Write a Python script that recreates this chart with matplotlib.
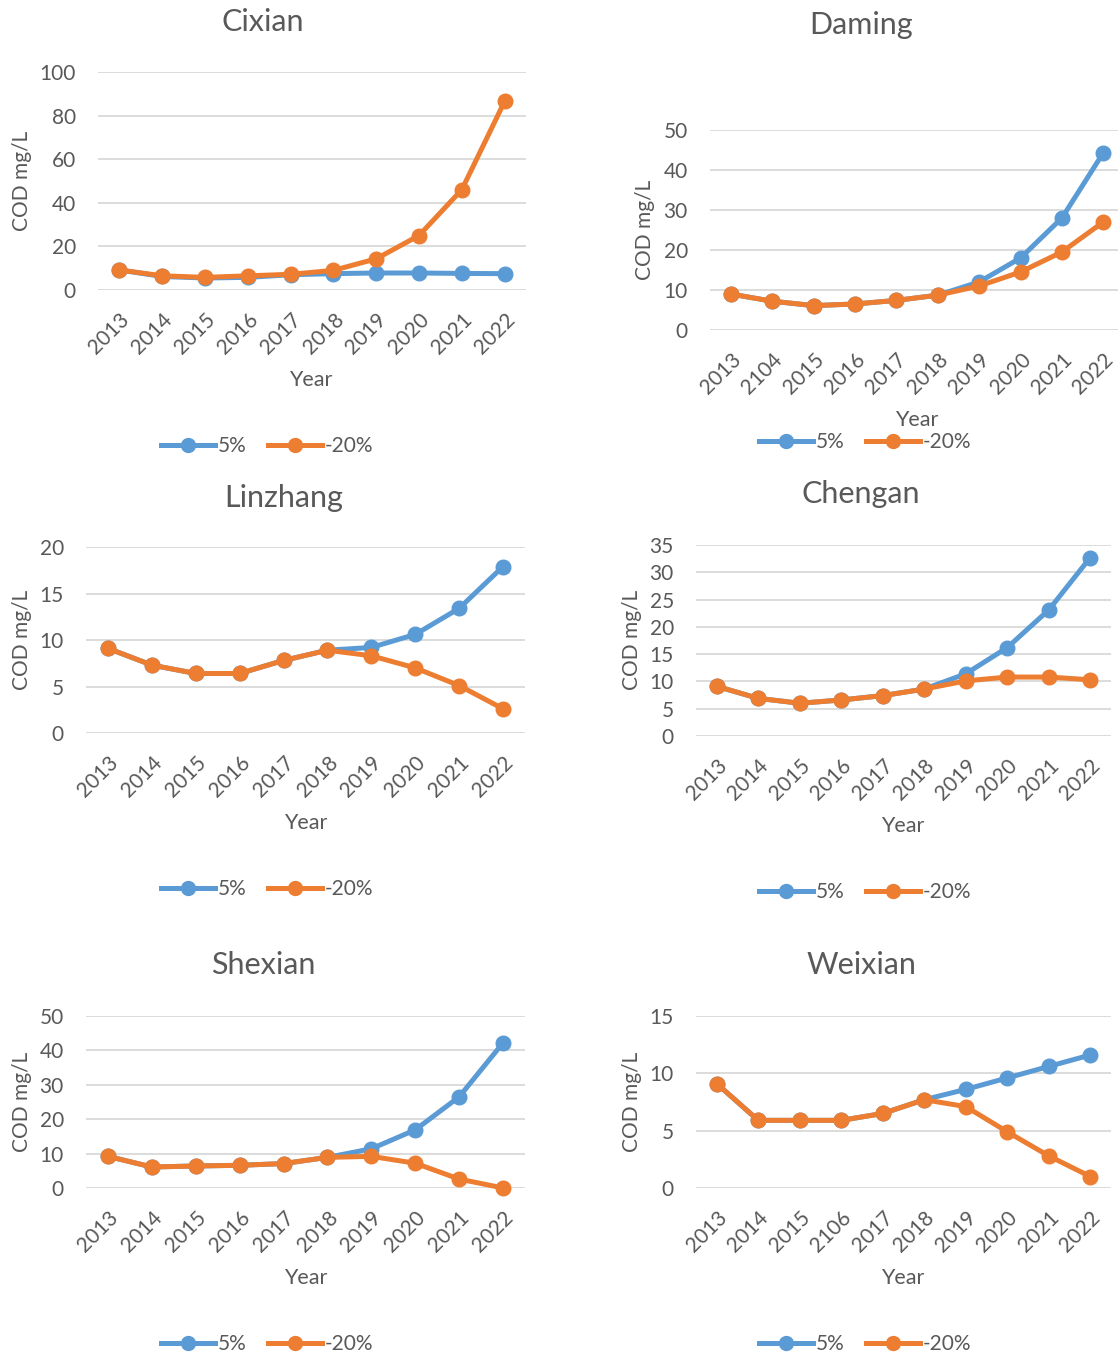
import matplotlib
matplotlib.use("Agg")
import matplotlib.pyplot as plt
from matplotlib.lines import Line2D

plt.rcParams['font.family'] = ['Lato', 'DejaVu Sans']

W, H = 1118, 1356
GRAY = "#595959"
GRID = "#D9D9D9"
BLUE = "#5B9BD5"
ORANGE = "#ED7D31"

years = ["2013", "2014", "2015", "2016", "2017", "2018", "2019", "2020", "2021", "2022"]
years_daming = ["2013", "2104", "2015", "2016", "2017", "2018", "2019", "2020", "2021", "2022"]
years_weixian = ["2013", "2014", "2015", "2106", "2017", "2018", "2019", "2020", "2021", "2022"]

cixian_up = [9.2, 6.2, 5.5, 5.8, 7.0, 7.5, 7.8, 7.8, 7.6, 7.5]
cixian_down = [9.2, 6.5, 5.8, 6.5, 7.2, 9.0, 14.3, 25.0, 46.0, 86.5]

daming_up = [9.0, 7.2, 6.1, 6.5, 7.4, 8.7, 12.0, 18.0, 28.0, 44.3]
daming_down = [9.0, 7.2, 6.1, 6.5, 7.4, 8.7, 11.0, 14.5, 19.5, 27.0]

linzhang_up = [9.1, 7.3, 6.4, 6.4, 7.8, 8.9, 9.2, 10.6, 13.4, 17.9]
linzhang_down = [9.1, 7.3, 6.4, 6.4, 7.8, 8.9, 8.3, 7.0, 5.1, 2.6]

chengan_up = [9.1, 6.9, 6.0, 6.6, 7.4, 8.6, 11.4, 16.2, 23.1, 32.7]
chengan_down = [9.1, 6.9, 6.0, 6.6, 7.4, 8.6, 10.1, 10.8, 10.8, 10.3]

shexian_up = [9.2, 6.1, 6.4, 6.6, 7.1, 8.9, 11.4, 16.9, 26.5, 42.2]
shexian_down = [9.2, 6.1, 6.4, 6.6, 7.1, 8.9, 9.2, 7.2, 2.6, 0.0]

weixian_up = [9.1, 5.9, 5.9, 5.9, 6.5, 7.7, 8.6, 9.6, 10.6, 11.6]
weixian_down = [9.1, 5.9, 5.9, 5.9, 6.5, 7.7, 7.1, 4.9, 2.8, 1.0]

# (name, labels, up, down, ymax, ystep, box l/r/t/b px, title xy, ylabel xy, year xy, legend xy)
panels = [
    ("Cixian", years, cixian_up, cixian_down, 100, 20,
     (98, 526, 72, 290), (263, 22), (22, 181), (311, 380), (267, 446)),
    ("Daming", years_daming, daming_up, daming_down, 50, 10,
     (710, 1124, 130, 330), (861, 25), (645, 230), (917, 420), (865, 442)),
    ("Linzhang", years, linzhang_up, linzhang_down, 20, 5,
     (86, 525, 547, 733), (284, 498), (22, 640), (306, 823), (267, 889)),
    ("Chengan", years, chengan_up, chengan_down, 35, 5,
     (696, 1111, 545, 736), (861, 494), (632, 640), (903, 826), (865, 892)),
    ("Shexian", years, shexian_up, shexian_down, 50, 10,
     (86, 525, 1016, 1188), (263, 965), (22, 1102), (306, 1278), (267, 1344)),
    ("Weixian", years_weixian, weixian_up, weixian_down, 15, 5,
     (696, 1111, 1016, 1188), (861, 965), (632, 1102), (903, 1278), (865, 1344)),
]

fig = plt.figure(figsize=(W / 100, H / 100), dpi=100)


def fx(px):
    return px / W


def fy(py):
    return 1 - py / H


line_kw = dict(linewidth=3.6, marker="o", markersize=10.5, solid_capstyle="round")

for name, labels, up, down, ymax, ystep, box, tpos, ypos, xpos, lpos in panels:
    l, r, t, b = box
    ax = fig.add_axes([fx(l), fy(b), (r - l) / W, (b - t) / H])
    x = list(range(len(labels)))
    ax.plot(x, up, color=BLUE, **line_kw)
    ax.plot(x, down, color=ORANGE, **line_kw)
    ax.set_xlim(-0.5, len(labels) - 0.5)
    ax.set_ylim(0, ymax)
    ax.set_yticks(range(0, ymax + 1, ystep))
    ax.set_xticks(x)
    ax.set_xticklabels(labels, rotation=45, ha="right", rotation_mode="anchor")
    ax.tick_params(axis="both", length=0, labelsize=15, colors=GRAY)
    ax.tick_params(axis="y", pad=16)
    ax.tick_params(axis="x", pad=14)
    ax.grid(axis="y", color=GRID, linewidth=1.3)
    ax.set_axisbelow(True)
    for s in ax.spines.values():
        s.set_visible(False)
    for ln in ax.get_lines():
        ln.set_clip_on(False)

    fig.text(fx(tpos[0]), fy(tpos[1]), name, ha="center", va="center",
             fontsize=22, color=GRAY)
    fig.text(fx(ypos[0]), fy(ypos[1]), "COD mg/L", ha="center", va="center",
             rotation=90, fontsize=15, color=GRAY)
    fig.text(fx(xpos[0]), fy(xpos[1]), "Year", ha="center", va="center",
             fontsize=15.5, color=GRAY)

    handles = [Line2D([], [], color=BLUE, linewidth=3.6, marker="o", markersize=10),
               Line2D([], [], color=ORANGE, linewidth=3.6, marker="o", markersize=10)]
    fig.legend(handles, ["5%", "-20%"], loc="center",
               bbox_to_anchor=(fx(lpos[0]), fy(lpos[1])), ncol=2, frameon=False,
               fontsize=15, labelcolor=GRAY, handlelength=2.6, handletextpad=0.15,
               columnspacing=1.0, borderpad=0)

fig.savefig("out.png", dpi=100, facecolor="white")
